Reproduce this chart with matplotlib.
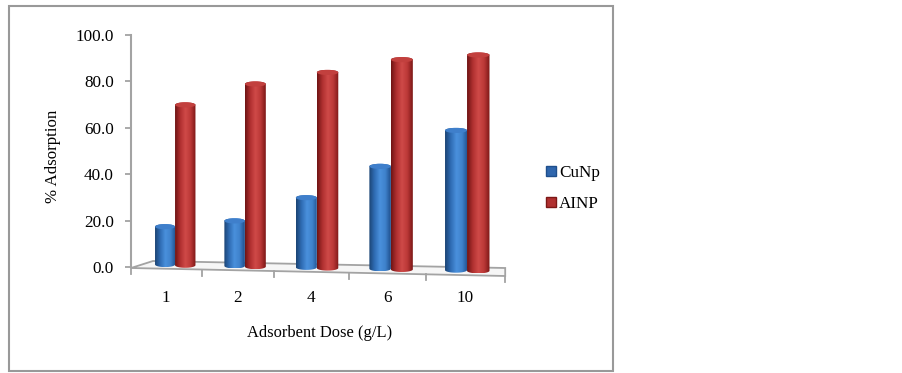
import numpy as np
import matplotlib
matplotlib.use("Agg")
import matplotlib.pyplot as plt
from matplotlib.path import Path
from matplotlib.patches import PathPatch, Polygon, Rectangle, Ellipse, Patch

plt.rcParams["font.family"] = ["Liberation Serif", "DejaVu Serif"]

doses = ["1", "2", "4", "6", "10"]
cunp = [18.5, 21.0, 31.0, 44.5, 60.0]
alnp = [71.0, 80.0, 85.0, 90.5, 92.5]

W, H = 903, 373
GRAY = "#a3a3a3"

fig = plt.figure(figsize=(W / 100, H / 100), dpi=100)
ax = fig.add_axes([131 / W, (H - 267) / H, (505 - 131) / W, 232 / H])
ax.set_facecolor("none")

PX_X = 70.0   # pixels per x unit
PX_Y = 2.32   # pixels per y unit


# the chart was a 3D column chart, categories widen slowly to the right
def persp(i):
    return 0.993 * i + 0.015 * i * i


def shade(colors):
    # horizontal cylinder shading
    stops = np.array([matplotlib.colors.to_rgb(c) for c in colors])
    t = np.linspace(0, 1, 64)
    pos = np.linspace(0, 1, len(colors))
    rgb = np.stack([np.interp(t, pos, stops[:, k]) for k in range(3)], axis=1)
    return rgb[np.newaxis, :, :]


def draw_bar(x0, x1, base, top, colors, cap, zorder):
    ry = 2.6 / PX_Y
    xc = (x0 + x1) / 2
    rx = (x1 - x0) / 2
    t = np.linspace(np.pi, 2 * np.pi, 30)
    bottom = np.column_stack([xc + rx * np.cos(t), base + ry * np.sin(t)])
    t = np.linspace(0, np.pi, 30)
    upper = np.column_stack([xc + rx * np.cos(t), top - ry + ry * np.sin(t)])
    pts = np.vstack([bottom, upper, bottom[:1]])
    im = ax.imshow(shade(colors), extent=[x0, x1, base - ry, top], aspect="auto",
                   zorder=zorder, interpolation="bilinear")
    im.set_clip_path(PathPatch(Path(pts), transform=ax.transData))
    im.set_clip_box(fig.bbox)  # feet of the bars hang below the axes
    ax.add_patch(Ellipse((xc, top - ry), 2 * rx, 2 * ry, facecolor=cap, edgecolor="none",
                         zorder=zorder + 0.1, clip_on=False))


BLUE = ["#1b4474", "#2f6cb4", "#4a90dc", "#3f82cc", "#1f4f8c"]
RED = ["#6f1414", "#b03030", "#cf4a48", "#bb3837", "#7c1716"]


def to_y(px):
    return (267 - px) / PX_Y


def to_x(px):
    return (px - 131) / PX_X


# floor of the 3D chart
floor = [(to_x(a), to_y(b)) for a, b in [(131, 268), (153, 261), (505, 268), (505, 276)]]
ax.add_patch(Polygon(floor, closed=True, facecolor="#f6f6f6", edgecolor=GRAY, linewidth=1.3,
                     zorder=1, clip_on=False))

for i in range(len(doses) + 1):
    x = persp(i)
    y_front = to_y(268 + 8 * x / persp(5))
    ax.plot([x, x], [y_front, y_front - 6 / PX_Y], color=GRAY, linewidth=1.3, zorder=1,
            clip_on=False)

for i in range(len(doses)):
    joint = persp(i + 0.5) + (9 - 1.8 * i) / PX_X
    width = (20 + 0.5 * i) / PX_X
    base = to_y(264.5 + 1.4 * i)
    draw_bar(joint - width, joint, base, cunp[i], BLUE, "#3f7fcb", 3 + i)
    draw_bar(joint, joint + width * 1.02, base - 0.3, alnp[i], RED, "#c2403e", 3.5 + i)

ax.set_xlim(0, persp(5))
ax.set_ylim(0, 100)
ax.set_xticks([persp(i + 0.5) for i in range(len(doses))])
ax.set_xticklabels(doses, fontsize=12.3)
ax.set_yticks(np.arange(0, 101, 20))
ax.set_yticklabels(["%.1f" % v for v in np.arange(0, 101, 20)], fontsize=12.3)
ax.tick_params(axis="x", length=0, pad=16.5)
ax.tick_params(axis="y", length=4, width=1.3, color=GRAY, pad=8.5)
for s in ["top", "right", "bottom"]:
    ax.spines[s].set_visible(False)
ax.spines["left"].set_color(GRAY)
ax.spines["left"].set_linewidth(1.5)

fig.text(53 / W, 1 - 156 / H, "% Adsorption", rotation=90, ha="center", va="center", fontsize=12.2)
fig.text(320 / W, 1 - 333 / H, "Adsorbent Dose (g/L)", ha="center", va="center", fontsize=11.9)

handles = [Patch(facecolor="#2f66ad", edgecolor="#1f4f8c", label="CuNp"),
           Patch(facecolor="#b03030", edgecolor="#7c1716", label="AINP")]
fig.legend(handles=handles, loc="center left", bbox_to_anchor=(531 / W, 1 - 188.5 / H), frameon=False,
           fontsize=12.3, handlelength=0.55, handleheight=0.55, handletextpad=0.2, labelspacing=0.85)

fig.add_artist(Rectangle((9.5 / W, 1 - 371 / H), 603.5 / W, 365 / H, transform=fig.transFigure,
                         fill=False, edgecolor="#999999", linewidth=1.5))

fig.savefig("out.png", dpi=100)
